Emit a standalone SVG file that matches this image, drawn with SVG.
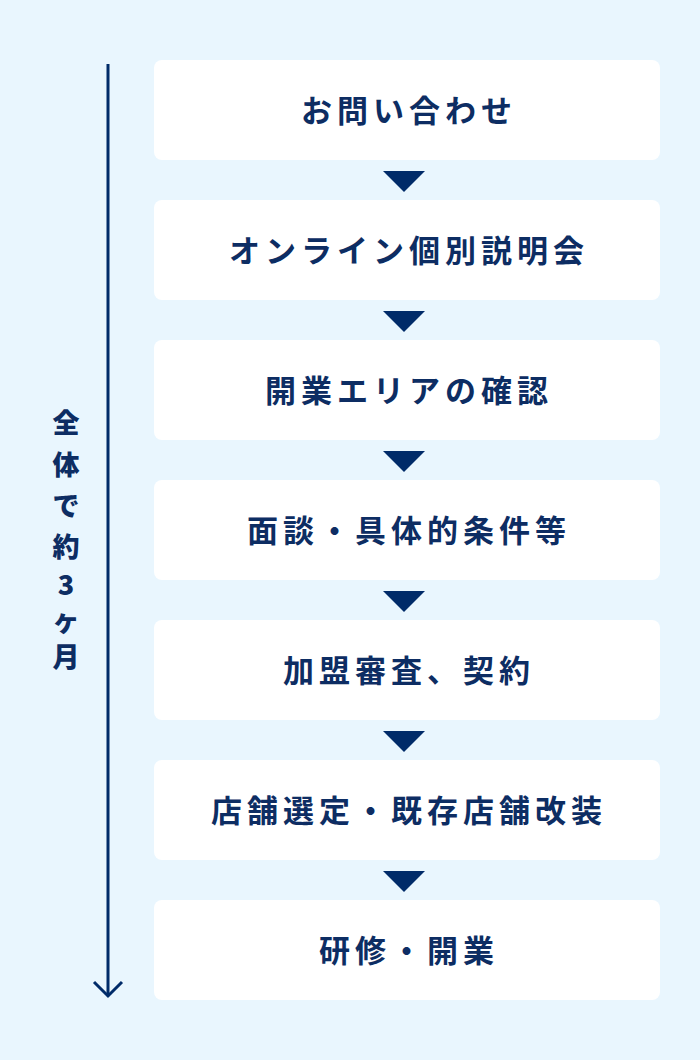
<svg xmlns="http://www.w3.org/2000/svg" width="700" height="1060" viewBox="0 0 700 1060">
<style>
.box{fill:#fff}
.t{font-family:"Noto Sans CJK JP","Noto Sans",sans-serif;font-weight:700;font-size:31px;letter-spacing:5px;fill:#0d2d63;text-anchor:middle;dominant-baseline:central}
.v{font-family:"Noto Sans CJK JP","Noto Sans",sans-serif;font-weight:900;font-size:27px;fill:#0d2d63;text-anchor:middle;dominant-baseline:central}
.tri{fill:#002b69}
</style>
<rect width="700" height="1060" fill="#e9f6fe"/>
<g id="timeline">
<line x1="108" y1="64" x2="108" y2="995" stroke="#002b69" stroke-width="3"/>
<polyline points="94,982 108,996 122,982" fill="none" stroke="#002b69" stroke-width="3"/>
<text class="v" x="66" y="421">全</text>
<text class="v" x="66" y="463">体</text>
<text class="v" x="66" y="504">で</text>
<text class="v" x="66" y="545">約</text>
<text class="v" x="66" y="583">3</text>
<text class="v" x="66" y="619">ヶ</text>
<text class="v" x="66" y="655">月</text>
</g>
<g id="n1"><rect class="box" x="154" y="60" width="506" height="100" rx="8"/><text class="t" x="409" y="108">お問い合わせ</text></g>
<g id="n2"><rect class="box" x="154" y="200" width="506" height="100" rx="8"/><text class="t" x="409" y="248">オンライン個別説明会</text></g>
<g id="n3"><rect class="box" x="154" y="340" width="506" height="100" rx="8"/><text class="t" x="409" y="388">開業エリアの確認</text></g>
<g id="n4"><rect class="box" x="154" y="480" width="506" height="100" rx="8"/><text class="t" x="409" y="528">面談・具体的条件等</text></g>
<g id="n5"><rect class="box" x="154" y="620" width="506" height="100" rx="8"/><text class="t" x="409" y="668">加盟審査、契約</text></g>
<g id="n6"><rect class="box" x="154" y="760" width="506" height="100" rx="8"/><text class="t" x="409" y="808">店舗選定・既存店舗改装</text></g>
<g id="n7"><rect class="box" x="154" y="900" width="506" height="100" rx="8"/><text class="t" x="409" y="948">研修・開業</text></g>
<g id="connectors">
<polygon class="tri" points="383,171 425,171 404,192"/>
<polygon class="tri" points="383,311 425,311 404,332"/>
<polygon class="tri" points="383,451 425,451 404,472"/>
<polygon class="tri" points="383,591 425,591 404,612"/>
<polygon class="tri" points="383,731 425,731 404,752"/>
<polygon class="tri" points="383,871 425,871 404,892"/>
</g>
</svg>
